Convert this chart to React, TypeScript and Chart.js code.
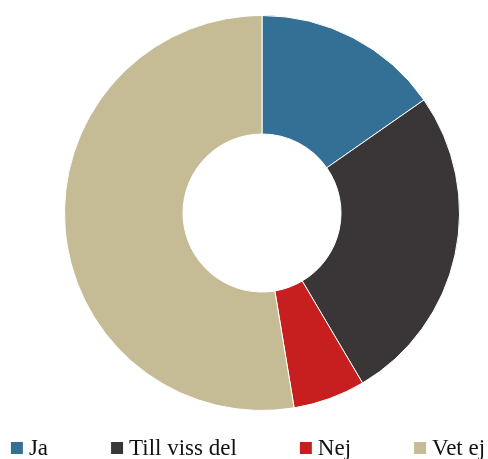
import { useEffect, useRef } from "react";
import { Chart, registerables } from "chart.js";

Chart.register(...registerables);

const categories = ["Ja", "Till viss del", "Nej", "Vet ej"];
const values = [15.3, 26.2, 5.9, 52.6];
const colors = ["#346f95", "#3a3536", "#c71f1f", "#c5bc96"];

const legendFont = "23px 'Liberation Serif', serif";

const legendPlugin = {
  id: "customLegend",
  afterDraw(chart: any) {
    const ctx = chart.ctx as CanvasRenderingContext2D;
    ctx.save();
    ctx.font = legendFont;
    const box = 12;
    const boxGap = 6;
    const itemGap = 63;
    const widths = categories.map((c) => box + boxGap + ctx.measureText(c).width);
    const total = widths.reduce((a, b) => a + b, 0) + itemGap * (categories.length - 1);
    let x = (chart.width - total) / 2 + 4;
    const baseline = 455;
    ctx.textBaseline = "alphabetic";
    categories.forEach((c, i) => {
      ctx.fillStyle = colors[i];
      ctx.fillRect(x, baseline - 13, box, box);
      ctx.fillStyle = "#111111";
      ctx.fillText(c, x + box + boxGap, baseline);
      x += widths[i] + itemGap;
    });
    ctx.restore();
  },
};

export default function App() {
  const ref = useRef<HTMLCanvasElement | null>(null);
  useEffect(() => {
    document.body.style.margin = "0";
    const chart = new Chart(ref.current!, {
      type: "doughnut",
      data: {
        labels: categories,
        datasets: [
          {
            data: values,
            backgroundColor: colors,
            borderColor: "#ffffff",
            borderWidth: 1,
          },
        ],
      },
      options: {
        animation: false,
        responsive: false,
        cutout: "40%",
        layout: { padding: { left: 36, right: 0, top: 15, bottom: 48 } },
        plugins: {
          legend: { display: false },
          tooltip: { enabled: false },
        },
      },
      plugins: [legendPlugin],
    });
    return () => chart.destroy();
  }, []);
  return (
    <div style={{ position: "absolute", left: 0, top: 0, width: 488, height: 459 }}>
      <canvas ref={ref} width={488} height={459} />
    </div>
  );
}
